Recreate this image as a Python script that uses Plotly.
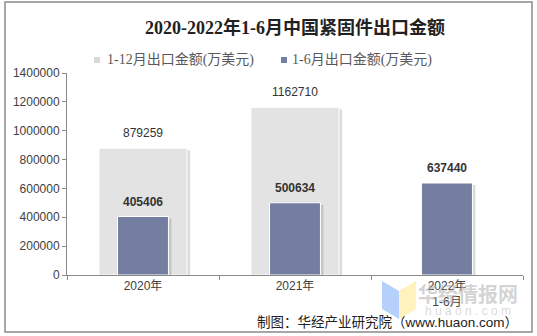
import plotly.graph_objects as go

# Export values of Chinese fasteners (10k USD)
categories = ["2020年", "2021年", "2022年<br>1-6月"]
full_year = [879259, 1162710]          # Jan-Dec
first_half = [405406, 500634, 637440]  # Jan-Jun
full_name = "1-12月出口金额(万美元)"
half_name = "1-6月出口金额(万美元)"

W, H = 537, 336
L, R, T, B = 67, 14, 73, 61
PW, PH = W - L - R, H - T - B
YMAX = 1400000

def px_x(x):
    return (x - L) / PW

def px_y(y):
    return (H - B - y) / PH

GREY = "#e2e3e2"
BLUE = "#737ea0"
SHADOW = "rgba(90,90,90,0.22)"
W_FULL, W_HALF = 0.58, 0.335
DX = 3 / (PW / 3)            # 3 px shadow shift in category units
DY = 2 * YMAX / PH           # 2 px shadow drop in value units

fig = go.Figure()

def add_bars(xs, ys, width, color):
    fig.add_trace(go.Bar(
        x=xs, y=[v - DY for v in ys], width=width, offset=-width / 2 + DX,
        marker=dict(color=SHADOW, line=dict(width=0)),
        showlegend=False, hoverinfo="skip"))
    fig.add_trace(go.Bar(
        x=xs, y=ys, width=width, offset=-width / 2,
        marker=dict(color=color, line=dict(color="white", width=1)),
        showlegend=False))

add_bars(categories[:2], full_year, W_FULL, GREY)
add_bars(categories, first_half, W_HALF, BLUE)

label_font = dict(family="Liberation Sans, Arial, sans-serif", size=12, color="#333333")
for c, v in zip(categories, full_year):
    fig.add_annotation(x=c, y=v, text=str(v), showarrow=False, yanchor="bottom",
                       yshift=6, font=label_font)
for c, v in zip(categories, first_half):
    fig.add_annotation(x=c, y=v, text="<b>%d</b>" % v, showarrow=False, yanchor="bottom",
                       yshift=6, font=label_font)

# Legend row
leg_font = dict(family="Liberation Serif, Noto Sans CJK SC, serif", size=14, color="#595959")
for mx, col, tx, name in [(97, "#d9d9d9", 105, full_name), (284, BLUE, 290, half_name)]:
    fig.add_shape(type="rect", xref="paper", yref="paper",
                  x0=px_x(mx - 3), x1=px_x(mx + 3), y0=px_y(63), y1=px_y(57),
                  fillcolor=col, line=dict(width=0))
    fig.add_annotation(xref="paper", yref="paper", x=px_x(tx), y=px_y(60),
                       xanchor="left", yanchor="middle", text=name, showarrow=False,
                       font=leg_font)

# Watermark logo
fig.add_shape(type="path", xref="paper", yref="paper", layer="above",
              path="M %f,%f L %f,%f L %f,%f L %f,%f Z" % (
                  px_x(382), px_y(281), px_x(399), px_y(291),
                  px_x(399), px_y(319), px_x(382), px_y(309)),
              fillcolor="rgba(150,190,250,0.7)", line=dict(width=0))
fig.add_shape(type="path", xref="paper", yref="paper", layer="above",
              path="M %f,%f L %f,%f L %f,%f L %f,%f Z" % (
                  px_x(399), px_y(291), px_x(416), px_y(281),
                  px_x(416), px_y(309), px_x(399), px_y(319)),
              fillcolor="rgba(255,236,160,0.7)", line=dict(width=0))
fig.add_annotation(xref="paper", yref="paper", x=px_x(468), y=px_y(293),
                   xanchor="center", yanchor="middle",
                   text="<b>华经情报网</b>", showarrow=False,
                   font=dict(family="Noto Sans CJK SC", size=20, color="rgba(175,175,175,0.55)"))
fig.add_annotation(xref="paper", yref="paper", x=px_x(468), y=px_y(311),
                   xanchor="center", yanchor="middle",
                   text="h u a o n . c o m", showarrow=False,
                   font=dict(family="Liberation Sans", size=12, color="rgba(185,185,185,0.55)"))

# Source note
fig.add_annotation(xref="paper", yref="paper", x=px_x(520), y=px_y(322),
                   xanchor="right", yanchor="middle", showarrow=False,
                   text="制图：华经产业研究院（www.huaon.com）",
                   font=dict(family="Liberation Sans, Noto Sans CJK SC", size=13.5, color="#222222"))

# Outer frame
fig.add_shape(type="rect", xref="paper", yref="paper", layer="above",
              x0=px_x(5), x1=px_x(532), y0=px_y(332), y1=px_y(2),
              line=dict(color="#8a8a8a", width=1.5), fillcolor="rgba(0,0,0,0)")

axis_font = dict(family="Liberation Sans, Noto Sans CJK SC, sans-serif", size=12, color="#404040")
fig.update_layout(
    width=W, height=H,
    margin=dict(l=L, r=R, t=T, b=B, pad=0),
    paper_bgcolor="white", plot_bgcolor="white",
    barmode="overlay", showlegend=False,
    title=dict(text="<b>2020-2022年1-6月中国紧固件出口金额</b>", x=0.5, xanchor="center",
               xref="paper", y=1 - 28 / H, yanchor="middle",
               font=dict(family="Liberation Serif, Noto Sans CJK SC, serif", size=18,
                         color="#222222")),
    xaxis=dict(type="category", categoryorder="array", categoryarray=categories,
               range=[-0.5, 2.5], showline=True, linecolor="#8a8a8a", linewidth=1,
               ticks="outside", tickson="boundaries", ticklen=4, tickcolor="#8a8a8a",
               tickfont=axis_font, showgrid=False, zeroline=False, fixedrange=True),
    yaxis=dict(range=[0, YMAX], dtick=200000, tickformat="d", showline=True,
               linecolor="#8a8a8a", linewidth=1, ticks="outside", ticklen=4,
               tickcolor="#8a8a8a", tickfont=axis_font, showgrid=False, zeroline=False,
               fixedrange=True),
)

fig.write_html("out.html")
